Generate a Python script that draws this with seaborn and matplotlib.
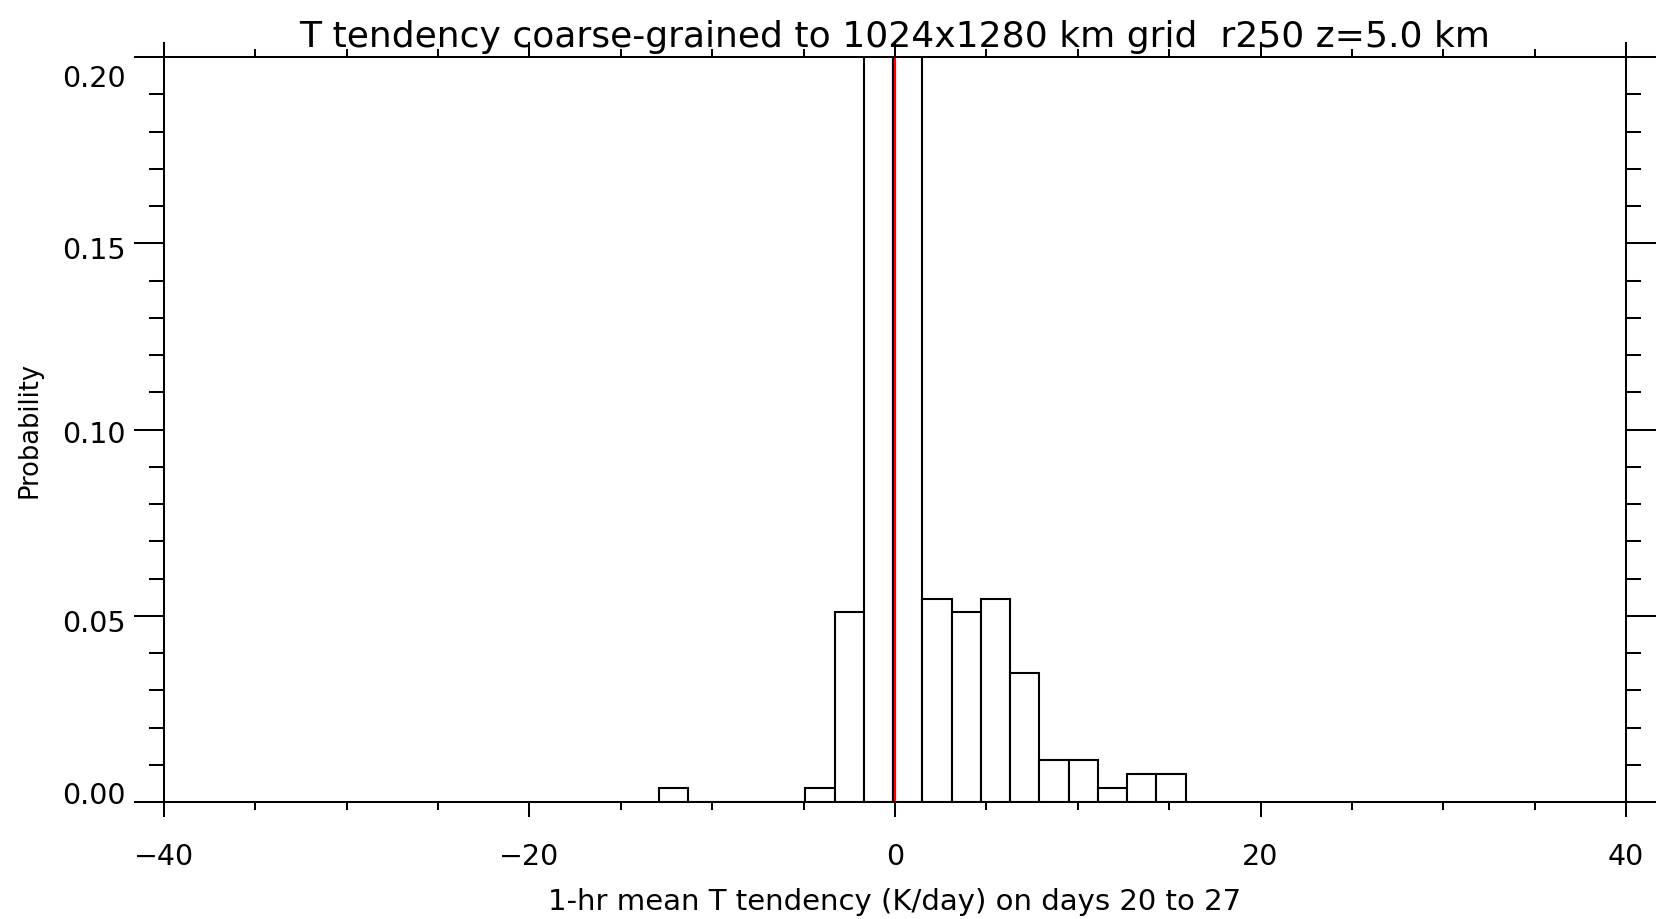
import matplotlib
matplotlib.use("Agg")
import matplotlib.pyplot as plt
import matplotlib.transforms as mtransforms
from matplotlib.ticker import MultipleLocator, FormatStrFormatter
import seaborn as sns
import numpy as np
import pandas as pd

# ---- data ----
bin_edges = [-12.9, -11.3, -9.7, -8.1, -6.5, -4.9, -3.3, -1.7, -0.1, 1.5,
             3.1, 4.7, 6.3, 7.9, 9.5, 11.1, 12.7, 14.3, 15.9]
probability = [0.0038, 0.0, 0.0, 0.0, 0.0, 0.0038, 0.051, 0.36, 0.34, 0.0545,
               0.051, 0.0545, 0.0346, 0.0114, 0.0114, 0.0038, 0.0076, 0.0076]
x_major_ticks = [-40, -20, 0, 20, 40]
y_major_ticks = [0.00, 0.05, 0.10, 0.15, 0.20]
marker_x = 0.0

title = "T tendency coarse-grained to 1024x1280 km grid  r250 z=5.0 km"
xlabel = "1-hr mean T tendency (K/day) on days 20 to 27"
ylabel = "Probability"

sns.set_style("white")
plt.rcParams.update({
    "font.family": ["DejaVu Sans"],
    "text.color": "black",
    "axes.labelcolor": "black",
    "xtick.color": "black",
    "ytick.color": "black",
})

fig = plt.figure(figsize=(16.58, 9.19), dpi=100)
ax = fig.add_axes([164 / 1658, 1 - 802 / 919, (1626 - 164) / 1658, (802 - 57) / 919])

edges = np.array(bin_edges)
df = pd.DataFrame({"t": (edges[:-1] + edges[1:]) / 2, "p": probability})
sns.histplot(data=df, x="t", weights="p", bins=list(bin_edges), stat="count",
             color="white", edgecolor="black", linewidth=1.5, alpha=1.0, ax=ax)
ax.axvline(marker_x, color="#ff0000", lw=1.6, zorder=5)

ax.set_xlim(-40, 40)
ax.set_ylim(0, 0.20)
ax.set_xticks(x_major_ticks)
ax.set_yticks(y_major_ticks)
ax.xaxis.set_minor_locator(MultipleLocator(5))
ax.yaxis.set_minor_locator(MultipleLocator(0.01))
ax.yaxis.set_major_formatter(FormatStrFormatter("%.2f"))

for s in ax.spines.values():
    s.set_linewidth(1.45)
    s.set_color("black")
    s.set_zorder(6)

ax.tick_params(which="both", direction="out", top=True, right=True,
               bottom=True, left=True, width=1.45, color="black")
ax.tick_params(axis="x", which="major", length=10.8, pad=19, labelsize=20.5)
ax.tick_params(axis="x", which="minor", length=5.8)
ax.tick_params(axis="y", which="major", length=21.6, pad=6, labelsize=20.5)
ax.tick_params(axis="y", which="minor", length=10.8)

ax.set_xlabel(xlabel, fontsize=21, labelpad=12)
ax.set_ylabel(ylabel, fontsize=18.5, labelpad=14)

# IDL-like vertical placement of the y tick labels (pixels, downward)
y_label_shift_px = [-9, 5, 2, 5, 19]
for lbl, dy in zip(ax.get_yticklabels(), y_label_shift_px):
    off = mtransforms.ScaledTranslation(0, -dy / 100, fig.dpi_scale_trans)
    lbl.set_transform(lbl.get_transform() + off)

fig.text((164 + 1626) / 2 / 1658, 1 - 47 / 919, title, ha="center",
         va="baseline", fontsize=26)

fig.savefig("out.png", dpi=100, facecolor="white")
